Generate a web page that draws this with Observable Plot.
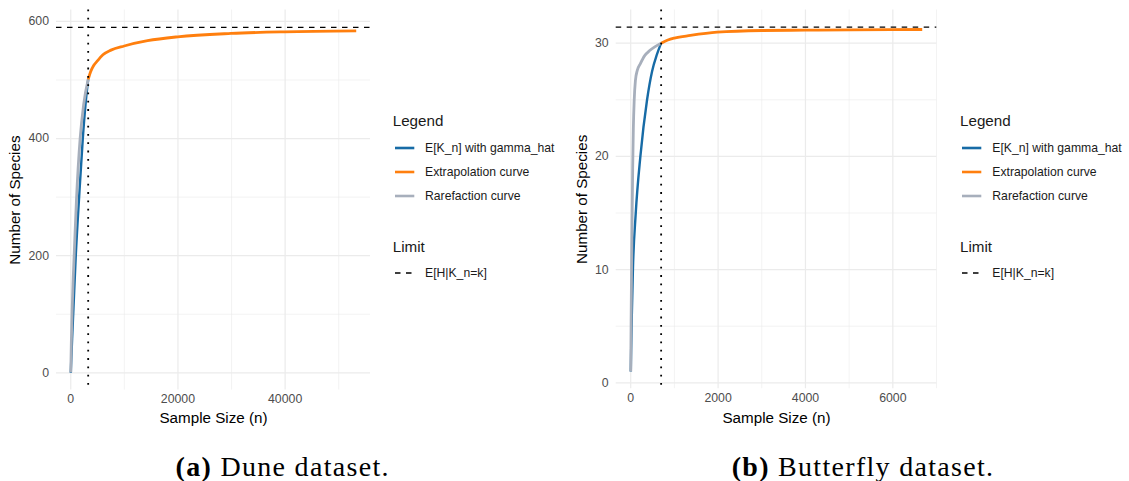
<!DOCTYPE html>
<html><head><meta charset="utf-8">
<script src="https://cdn.jsdelivr.net/npm/d3@7"></script>
<script src="https://cdn.jsdelivr.net/npm/@observablehq/plot@0.6"></script>
<style>
html,body{margin:0;padding:0;background:#fff;}
body{width:1129px;height:481px;overflow:hidden;position:relative;font-family:"Liberation Sans",Arial,sans-serif;}
.panel{position:absolute;top:0;}
.lgt{position:absolute;font-size:15.2px;white-space:nowrap;line-height:1;color:#1a1a1a;transform:translateY(-50%);}
.lgi{position:absolute;font-size:12.2px;white-space:nowrap;line-height:1;color:#1a1a1a;transform:translateY(-50%);}
.key{position:absolute;transform:translateY(-50%);}
.cap{position:absolute;font-family:"Liberation Serif",serif;font-size:28px;letter-spacing:1.3px;white-space:nowrap;transform:translateX(-50%);line-height:1;color:#000;}
g[aria-label="x-axis label"], g[aria-label="y-axis label"]{fill:#000;font-size:15.2px;}
</style>
</head><body>
<script>
// ---------- data: Dune dataset ----------
const duneModelN = [0, 250, 500, 934, 1557, 2243, 2750, 3250];
const duneModelK = [0, 58, 110, 200, 300, 400, 458, 501];
const duneRareN = [1, 100, 250, 450, 650, 1060, 1744, 2400, 3250];
const duneRareK = [1, 50, 105, 160, 205, 295, 400, 458, 501];
const duneExtN = [3250, 3700, 4300, 5000, 6000, 7500, 9970, 14330, 19940, 29900, 39870, 53270];
const duneExtK = [501, 514, 525, 533, 543, 551, 558, 567, 573.7, 579.5, 582.3, 584];
const duneObsN = 3250;
const duneLimit = 590;
const duneXMajor = [0, 20000, 40000];
const duneXMinor = [10000, 30000, 50000];
const duneYMajor = [0, 200, 400, 600];
const duneYMinor = [100, 300, 500];

// ---------- data: Butterfly dataset ----------
const butModelN = [1, 10, 25, 50, 115, 221, 374, 488, 600, 696];
const butModelK = [1, 3, 6, 10, 15, 20, 25, 27.5, 29, 30];
const butRareN = [1, 5, 10, 20, 30, 45, 60, 80, 107, 150, 221, 320, 435, 560, 696];
const butRareK = [1, 3.5, 6, 10.5, 14, 19, 22.5, 25, 26.7, 27.6, 28.2, 28.9, 29.35, 29.7, 30];
const butExtN = [696, 850, 1000, 1366, 1978, 3009, 4000, 5030, 6673];
const butExtK = [30, 30.28, 30.45, 30.68, 30.97, 31.12, 31.15, 31.18, 31.21];
const butObsN = 696;
const butLimit = 31.41;
const butXMajor = [0, 2000, 4000, 6000];
const butXMinor = [1000, 3000, 5000, 7000];
const butYMajor = [0, 10, 20, 30];
const butYMinor = [5, 15, 25];

// ---------- labels ----------
const seriesLabels = ["E[K_n] with gamma_hat", "Extrapolation curve", "Rarefaction curve"];
const seriesColors = ["#176ba6", "#ff7f0e", "#a7afbc"];
const limitLabel = "E[H|K_n=k]";
const xTitle = "Sample Size (n)";
const yTitle = "Number of Species";
const captions = [["(a)", " Dune dataset."], ["(b)", " Butterfly dataset."]];

function pts(ns, ks) { return ns.map((n, i) => ({n, k: ks[i]})); }
function expand(vals) {
  const lo = d3.min(vals), hi = d3.max(vals), r = hi - lo;
  return [lo - 0.05 * r, hi + 0.05 * r];
}

function panel(cfg) {
  const model = pts(cfg.modelN, cfg.modelK);
  const rare = pts(cfg.rareN, cfg.rareK);
  const ext = pts(cfg.extN, cfg.extK);
  const xd = expand([...cfg.modelN, ...cfg.rareN, ...cfg.extN, cfg.obsN]);
  const yd = expand([...cfg.modelK, ...cfg.rareK, ...cfg.extK, cfg.limit]);
  const p = Plot.plot({
    width: 380, height: 430,
    marginLeft: cfg.ml, marginRight: cfg.mr, marginTop: 9.5, marginBottom: cfg.mb,
    x: {domain: xd},
    y: {domain: yd},
    style: {fontFamily: '"Liberation Sans", Arial, sans-serif', fontSize: "12.3px", background: "transparent", color: "#4d4d4d", overflow: "visible"},
    marks: [
      Plot.gridX(cfg.xMinor, {stroke: "#ebebeb", strokeOpacity: 1, strokeWidth: 0.6}),
      Plot.gridY(cfg.yMinor, {stroke: "#ebebeb", strokeOpacity: 1, strokeWidth: 0.6}),
      Plot.gridX(cfg.xMajor, {stroke: "#ebebeb", strokeOpacity: 1, strokeWidth: 1.2}),
      Plot.gridY(cfg.yMajor, {stroke: "#ebebeb", strokeOpacity: 1, strokeWidth: 1.2}),
      Plot.axisX(cfg.xMajor, {tickSize: 0, tickPadding: 4.5, tickFormat: d => String(d), label: xTitle, labelAnchor: "center", labelArrow: "none", labelOffset: cfg.xlo, color: "#4d4d4d"}),
      Plot.axisY(cfg.yMajor, {tickSize: 0, tickPadding: 7.5, tickFormat: d => String(d), label: yTitle, labelAnchor: "center", labelArrow: "none", labelOffset: cfg.ylo, color: "#4d4d4d"}),
      Plot.line(model, {x: "n", y: "k", stroke: seriesColors[0], strokeWidth: 2.4, curve: "monotone-x", strokeLinecap: "butt"}),
      Plot.line(rare, {x: "n", y: "k", stroke: seriesColors[2], strokeWidth: 2.8, curve: "monotone-x", strokeLinecap: "butt"}),
      Plot.line(ext, {x: "n", y: "k", stroke: seriesColors[1], strokeWidth: 2.8, curve: "monotone-x", strokeLinecap: "butt"}),
      Plot.ruleY([cfg.limit], {stroke: "#000", strokeWidth: 1.3, strokeDasharray: "5.5,5.5"}),
      Plot.ruleX([cfg.obsN], {stroke: "#000", strokeWidth: 1.8, strokeDasharray: "1.8,6.5"})
    ]
  });
  const wrap = document.createElement("div");
  wrap.className = "panel";
  wrap.style.left = cfg.left + "px";
  wrap.appendChild(p);
  document.body.appendChild(wrap);
}

function legend(x0) {
  const add = (cls, left, top, txt) => {
    const d = document.createElement("div");
    d.className = cls; d.style.left = left + "px"; d.style.top = top + "px"; d.textContent = txt;
    document.body.appendChild(d);
  };
  const key = (top, color, dash) => {
    const ns = "http://www.w3.org/2000/svg";
    const s = document.createElementNS(ns, "svg");
    s.setAttribute("width", 20); s.setAttribute("height", 6);
    s.setAttribute("class", "key");
    s.style.left = (x0 + 2.3) + "px"; s.style.top = top + "px";
    const l = document.createElementNS(ns, "line");
    l.setAttribute("x1", 0); l.setAttribute("x2", 19.3); l.setAttribute("y1", 3); l.setAttribute("y2", 3);
    l.setAttribute("stroke", color); l.setAttribute("stroke-width", dash ? 1.3 : 2.6);
    if (dash) l.setAttribute("stroke-dasharray", "5.5,5.5");
    s.appendChild(l);
    document.body.appendChild(s);
  };
  add("lgt", x0, 121, "Legend");
  const ys = [147.7, 171.5, 196.3];
  seriesLabels.forEach((t, i) => { key(ys[i], seriesColors[i], false); add("lgi", x0 + 32.3, ys[i], t); });
  add("lgt", x0, 246.7, "Limit");
  key(273, "#000", true);
  add("lgi", x0 + 32.3, 273, limitLabel);
}

panel({left: 0, ml: 56, mr: 10, mb: 40.4, xlo: 33, ylo: 47,
  modelN: duneModelN, modelK: duneModelK, rareN: duneRareN, rareK: duneRareK, extN: duneExtN, extK: duneExtK,
  obsN: duneObsN, limit: duneLimit, xMajor: duneXMajor, xMinor: duneXMinor, yMajor: duneYMajor, yMinor: duneYMinor});
panel({left: 565, ml: 50.7, mr: 8.7, mb: 41.8, xlo: 34.4, ylo: 40,
  modelN: butModelN, modelK: butModelK, rareN: butRareN, rareK: butRareK, extN: butExtN, extK: butExtK,
  obsN: butObsN, limit: butLimit, xMajor: butXMajor, xMinor: butXMinor, yMajor: butYMajor, yMinor: butYMinor});
legend(392.7);
legend(960);

const capX = [282.7, 863];
captions.forEach((c, i) => {
  const d = document.createElement("div");
  d.className = "cap";
  d.style.left = capX[i] + "px";
  d.style.top = "453px";
  const b = document.createElement("b"); b.textContent = c[0];
  d.appendChild(b);
  d.appendChild(document.createTextNode(c[1]));
  document.body.appendChild(d);
});
</script>
</body></html>
